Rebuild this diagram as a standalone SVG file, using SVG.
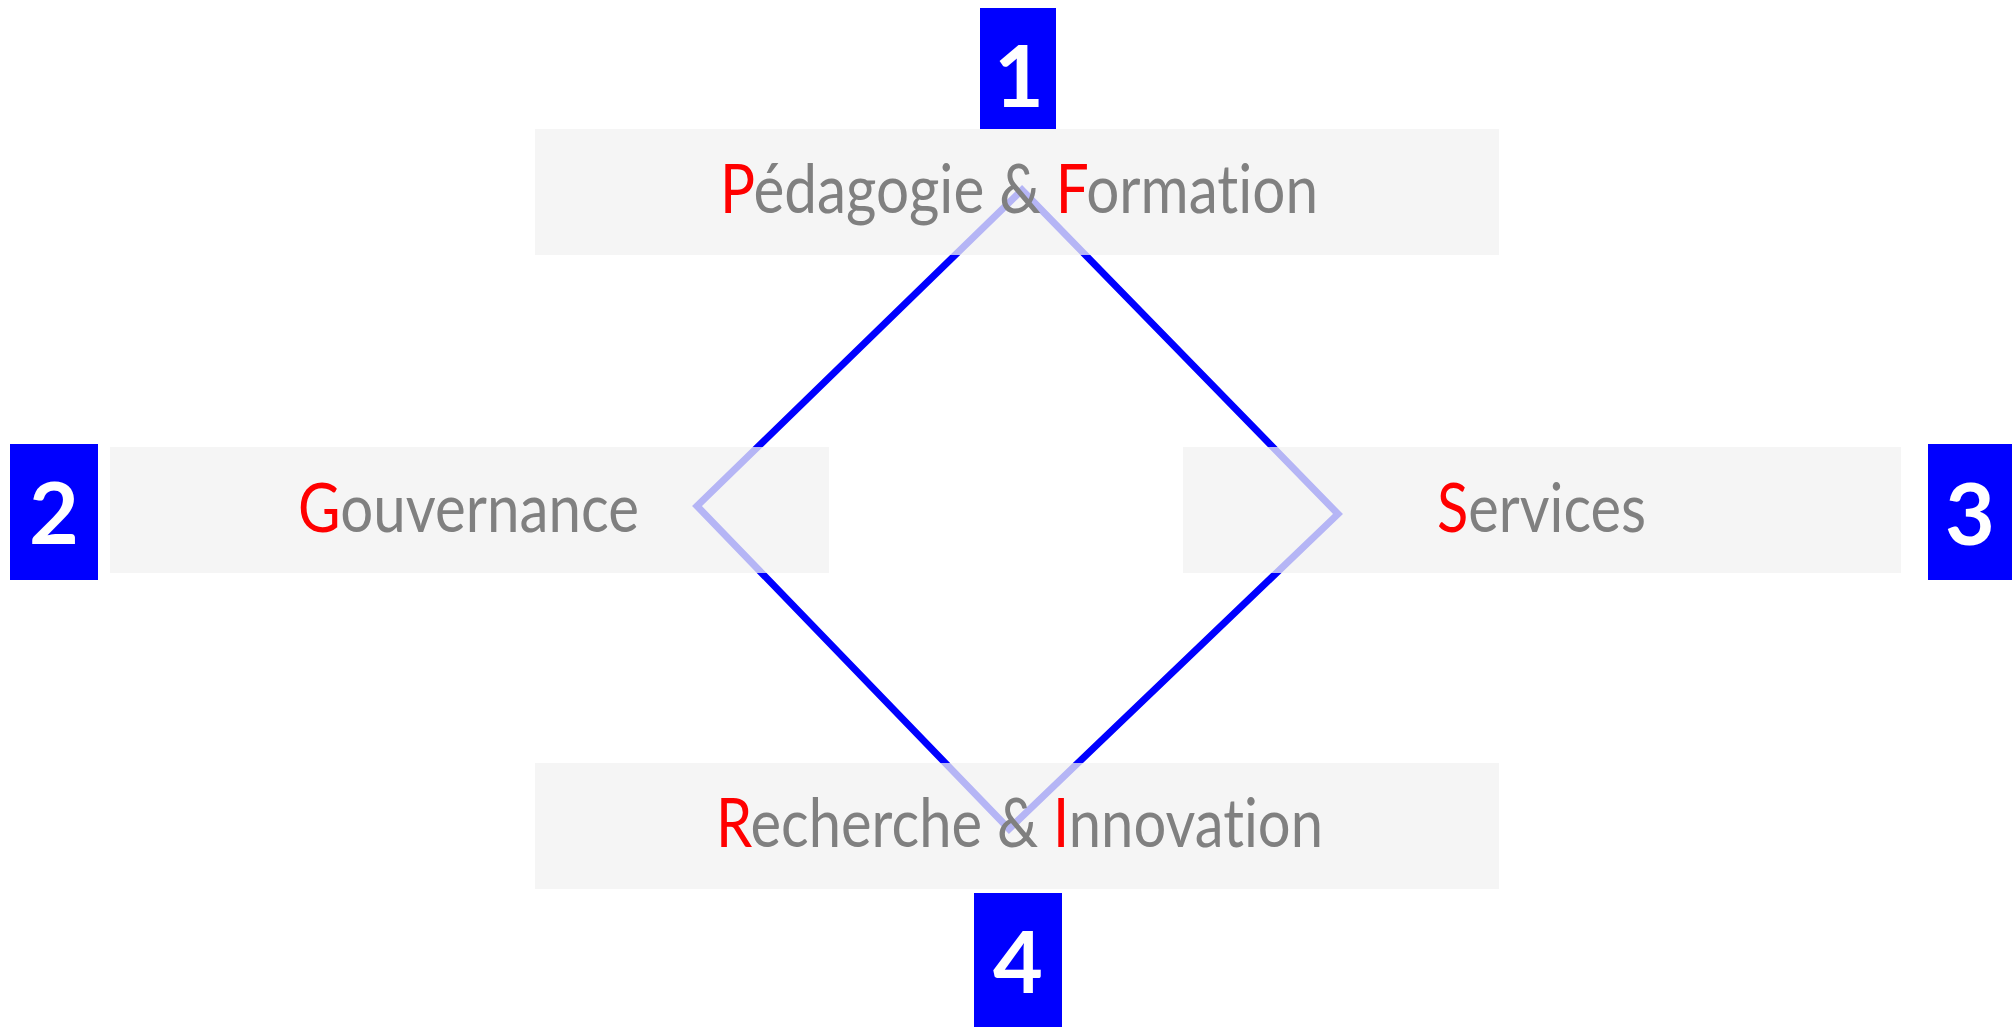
<svg xmlns="http://www.w3.org/2000/svg" width="2012" height="1027" viewBox="0 0 2012 1027">
<style>
.box{fill:#f2f2f2;fill-opacity:0.75}
.badge{fill:#0000ff}
.lbl{font-family:Lato,"Liberation Sans",sans-serif;font-size:68px;fill:#808080;font-variant-ligatures:none;font-feature-settings:"liga" 0,"clig" 0}
.ini{fill:#ff0000}
.num{font-family:Lato,"Liberation Sans",sans-serif;font-size:86px;font-weight:bold;fill:#ffffff;text-anchor:middle}
.edge{fill:none;stroke:#0000ff;stroke-width:7;stroke-linejoin:miter}
</style>
<rect width="2012" height="1027" fill="#ffffff"/>
<g id="connectors">
<polygon class="edge" points="1022,190 1338,514 1009,829 697,506"/>
</g>
<g id="node-pedagogie">
<rect class="box" x="535" y="129" width="964" height="126"/>
<text class="lbl" x="720" y="213" textLength="598" lengthAdjust="spacingAndGlyphs"><tspan class="ini">P</tspan>édagogie &amp; <tspan class="ini">F</tspan>ormation</text>
</g>
<g id="node-gouvernance">
<rect class="box" x="110" y="447" width="719" height="126"/>
<text class="lbl" x="298" y="532" textLength="341" lengthAdjust="spacingAndGlyphs"><tspan class="ini">G</tspan>ouvernance</text>
</g>
<g id="node-services">
<rect class="box" x="1183" y="447" width="718" height="126"/>
<text class="lbl" x="1437" y="532" textLength="209" lengthAdjust="spacingAndGlyphs"><tspan class="ini">S</tspan>ervices</text>
</g>
<g id="node-recherche">
<rect class="box" x="535" y="763" width="964" height="126"/>
<text class="lbl" x="716" y="847" textLength="607" lengthAdjust="spacingAndGlyphs"><tspan class="ini">R</tspan>echerche &amp; <tspan class="ini">I</tspan>nnovation</text>
</g>
<g id="badge-1">
<rect class="badge" x="980" y="8" width="76" height="121"/>
<text class="num" x="1019" y="107">1</text>
</g>
<g id="badge-2">
<rect class="badge" x="10" y="444" width="88" height="136"/>
<text class="num" x="54" y="544">2</text>
</g>
<g id="badge-3">
<rect class="badge" x="1928" y="444" width="84" height="136"/>
<text class="num" x="1970" y="545">3</text>
</g>
<g id="badge-4">
<rect class="badge" x="974" y="893" width="88" height="134"/>
<text class="num" x="1018" y="993">4</text>
</g>
</svg>
